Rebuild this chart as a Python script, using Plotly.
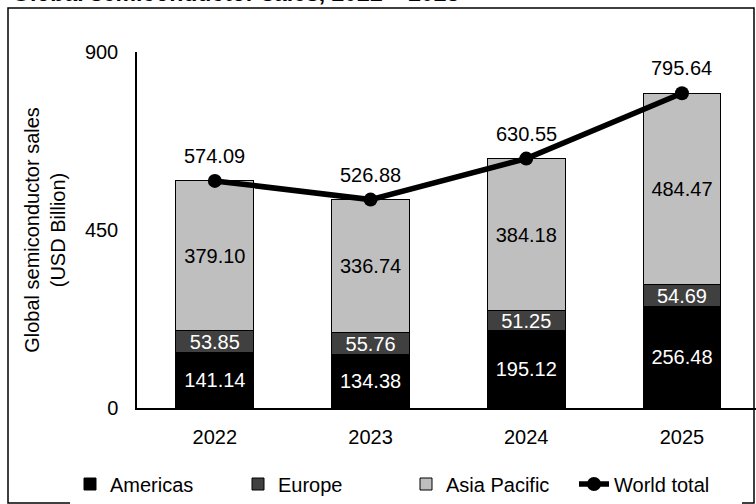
import plotly.graph_objects as go

years = ["2022", "2023", "2024", "2025"]
americas = [141.14, 134.38, 195.12, 256.48]
europe = [53.85, 55.76, 51.25, 54.69]
asia_pacific = [379.10, 336.74, 384.18, 484.47]
world_total = [574.09, 526.88, 630.55, 795.64]
y_ticks = [0, 450, 900]

FONT = "Liberation Sans, Arial, sans-serif"
FS = 20

fig = go.Figure()

def fmt(v):
    return [f"{x:.2f}" for x in v]

fig.add_trace(go.Bar(
    x=years, y=americas, name="Americas", text=fmt(americas),
    marker=dict(color="#000000", line=dict(color="#000000", width=1)),
    textposition="inside", insidetextanchor="middle",
    textfont=dict(color="white", size=FS, family=FONT),
))
fig.add_trace(go.Bar(
    x=years, y=europe, name="Europe", text=fmt(europe),
    marker=dict(color="#404040", line=dict(color="#000000", width=1)),
    textposition="inside", insidetextanchor="middle",
    textfont=dict(color="white", size=FS, family=FONT),
))
fig.add_trace(go.Bar(
    x=years, y=asia_pacific, name="Asia Pacific", text=fmt(asia_pacific),
    marker=dict(color="#bfbfbf", line=dict(color="#000000", width=1)),
    textposition="inside", insidetextanchor="middle",
    textfont=dict(color="black", size=FS, family=FONT),
))
fig.add_trace(go.Scatter(
    x=years, y=world_total, name="World total", mode="lines+markers",
    line=dict(color="black", width=5.5),
    marker=dict(color="black", size=14),
))

# world-total value labels (category index positions on the x axis)
for i, v in enumerate(world_total):
    fig.add_annotation(x=i, y=v, xref="x", yref="y", text=f"{v:.2f}",
                       showarrow=False, yshift=25,
                       font=dict(size=FS, color="black", family=FONT))

# geometry (pixels)
L, R, T, B = 137, 0, 52, 96
W, H = 756, 504
pw, ph = W - L - R, H - T - B
cat_px = 155.7  # pixel width of one category band

# chart title (partly above the page top, as in the reference)
fig.add_annotation(xref="paper", yref="paper",
                   x=(10 - L) / pw, xanchor="left",
                   y=(H - B + 7) / ph, yanchor="middle",
                   text="<b>Global semiconductor sales, 2022 – 2025</b>",
                   showarrow=False, font=dict(size=23, color="black", family=FONT))

fig.add_shape(type="rect", xref="paper", yref="paper",
              x0=(8 - L) / pw, x1=(754 - L) / pw,
              y0=(H - B - 503) / ph, y1=(H - B - 8) / ph,
              line=dict(color="black", width=1.5), fillcolor="rgba(0,0,0,0)", layer="below")

fig.update_layout(
    width=W, height=H,
    margin=dict(l=L, r=R, t=T, b=B),
    barmode="stack", bargap=0.5,
    plot_bgcolor="white", paper_bgcolor="white",
    font=dict(family=FONT, size=FS, color="black"),
    uniformtext=dict(minsize=FS, mode="show"),
    xaxis=dict(type="category", showline=True, linecolor="black", linewidth=1.5, ticks="",
               range=[-0.5, -0.5 + pw / cat_px], ticklabelstandoff=10,
               tickfont=dict(size=FS)),
    yaxis=dict(range=[0, 900], tickvals=y_ticks, showgrid=False, zeroline=False,
               showline=True, linecolor="black", linewidth=1.5, ticks="",
               ticklabelstandoff=13, tickfont=dict(size=FS),
               title=dict(text="Global semiconductor sales<br>(USD Billion)",
                          font=dict(size=FS), standoff=14)),
    legend=dict(orientation="h", x=(70 - L) / pw, xanchor="left",
                y=(H - B - 484) / ph, yanchor="middle",
                font=dict(size=FS), entrywidth=123, traceorder="normal"),
    showlegend=True,
)

fig.write_html("out.html", config={"displayModeBar": False},
               post_script="document.body.style.margin='0';")
